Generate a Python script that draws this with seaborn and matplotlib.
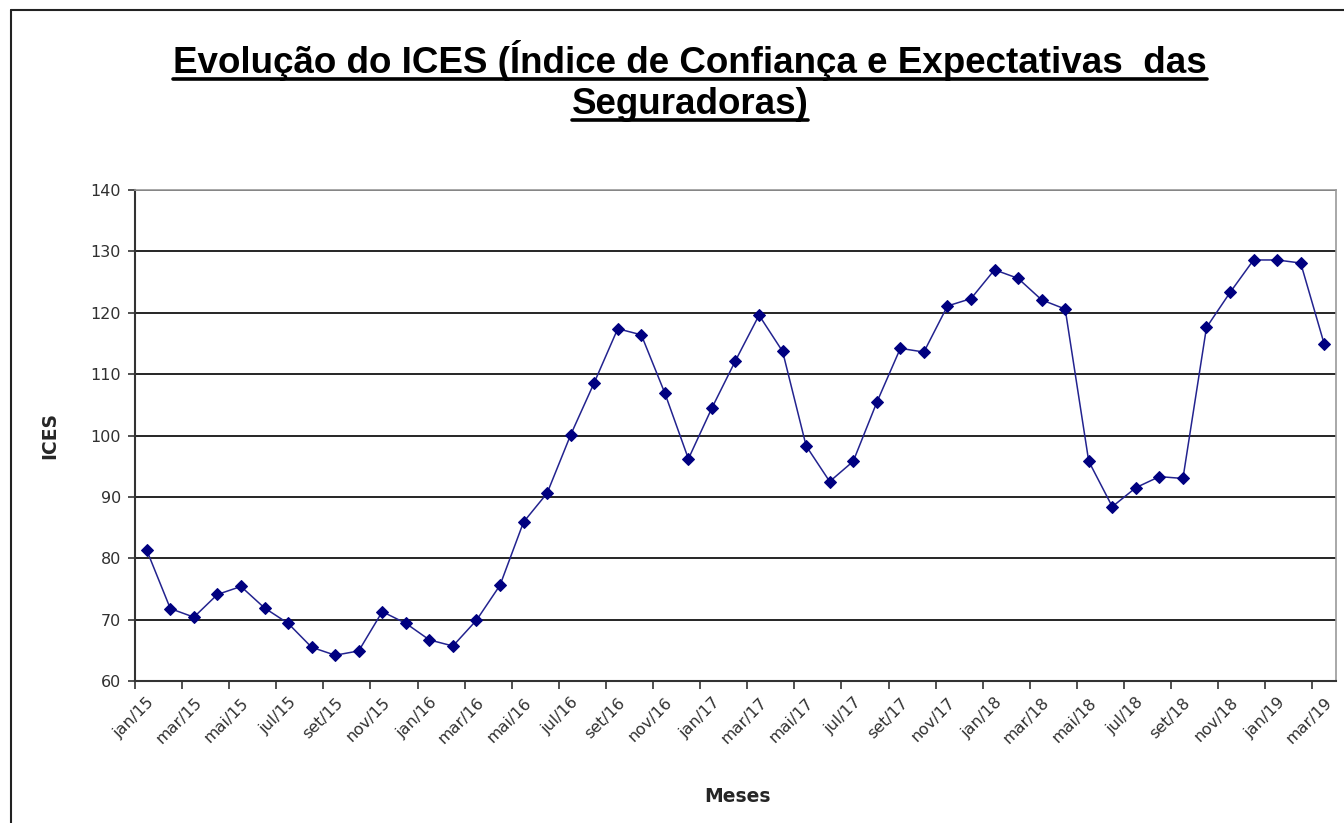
import numpy as np
import pandas as pd
import matplotlib
matplotlib.use("Agg")
import matplotlib.pyplot as plt
import seaborn as sns
from matplotlib.lines import Line2D

meses = ["jan/15", "fev/15", "mar/15", "abr/15", "mai/15", "jun/15", "jul/15", "ago/15", "set/15", "out/15", "nov/15", "dez/15",
         "jan/16", "fev/16", "mar/16", "abr/16", "mai/16", "jun/16", "jul/16", "ago/16", "set/16", "out/16", "nov/16", "dez/16",
         "jan/17", "fev/17", "mar/17", "abr/17", "mai/17", "jun/17", "jul/17", "ago/17", "set/17", "out/17", "nov/17", "dez/17",
         "jan/18", "fev/18", "mar/18", "abr/18", "mai/18", "jun/18", "jul/18", "ago/18", "set/18", "out/18", "nov/18", "dez/18",
         "jan/19", "fev/19", "mar/19"]
ices = [81.3, 71.8, 70.4, 74.1, 75.4, 71.9, 69.4, 65.5, 64.2, 64.9,
        71.3, 69.4, 66.7, 65.7, 69.9, 75.6, 85.9, 90.6, 100.1, 108.6,
        117.4, 116.4, 106.9, 96.2, 104.5, 112.2, 119.6, 113.7, 98.3, 92.5,
        95.8, 105.4, 114.2, 113.6, 121.1, 122.3, 127.0, 125.6, 122.1, 120.6,
        95.8, 88.4, 91.5, 93.3, 93.0, 117.6, 123.3, 128.6, 128.6, 128.1,
        114.9]
y_ticks = [60, 70, 80, 90, 100, 110, 120, 130, 140]

titulo1 = "Evolução do ICES (Índice de Confiança e Expectativas  das"
titulo2 = "Seguradoras)"

df = pd.DataFrame({"pos": np.arange(len(meses)), "mes": meses, "ICES": ices})

sns.set_style("white")
plt.rcParams["font.family"] = ["DejaVu Sans"]

W, H = 1344, 823
fig = plt.figure(figsize=(W / 100, H / 100), dpi=100)
fig.patch.set_facecolor("white")

ax = fig.add_axes([135 / W, 1 - 681 / H, (1336 - 135) / W, (681 - 190) / H])
sns.lineplot(data=df, x="pos", y="ICES", ax=ax, color="#23238f", linewidth=1.1,
             marker="D", markersize=6.5, markerfacecolor="#000080",
             markeredgecolor="#000080")

ax.set_xlim(-0.5, len(meses) - 0.5)
ax.set_ylim(60, 140)
ax.set_yticks(y_ticks)
ax.set_yticklabels([str(v) for v in y_ticks])
ax.set_xticks(np.arange(-0.5, len(meses) - 1, 2))
ax.set_xticklabels([])
ax.set_xticks(np.arange(0, len(meses), 2), minor=True)
ax.set_xticklabels(meses[::2], minor=True, rotation=45, ha="right",
                   rotation_mode="anchor")
ax.tick_params(axis="x", which="major", direction="out", length=6, width=1.2,
               color="#333333", bottom=True)
ax.tick_params(axis="x", which="minor", length=0, pad=10, labelsize=11.5,
               labelcolor="#303030")
ax.tick_params(axis="y", direction="out", length=5, width=1.2, color="#333333",
               labelsize=11.5, labelcolor="#303030", pad=5, left=True)

ax.yaxis.grid(True, color="black", linewidth=1.2)
ax.xaxis.grid(False)
ax.set_axisbelow(True)
for s in ["left", "bottom"]:
    ax.spines[s].set_color("#333333")
    ax.spines[s].set_linewidth(1.5)
for s in ["top", "right"]:
    ax.spines[s].set_color("#999999")
    ax.spines[s].set_linewidth(1.2)

ax.set_xlabel("Meses", fontsize=13.5, fontweight="bold", labelpad=0)
ax.xaxis.set_label_coords(0.502, -(787 - 681) / (681 - 190), transform=ax.transAxes)
ax.set_ylabel("ICES", fontsize=13.5, fontweight="bold")
ax.yaxis.set_label_coords(-(135 - 59) / (1336 - 135), 0.5)

# title (underlined, two lines)
tfont = dict(fontsize=26.5, fontweight="bold", family=["Liberation Sans", "DejaVu Sans"],
             ha="center", va="baseline", color="black")
t1 = fig.text(690 / W, 1 - 73 / H, titulo1, **tfont)
t2 = fig.text(690 / W, 1 - 114 / H, titulo2, **tfont)
fig.canvas.draw()
r = fig.canvas.get_renderer()
for t, base in ((t1, 73), (t2, 114)):
    bb = t.get_window_extent(renderer=r)
    yline = 1 - (base + 5.5) / H
    fig.add_artist(Line2D([bb.x0 / W, bb.x1 / W], [yline, yline], color="black",
                          linewidth=2.6, transform=fig.transFigure))

# outer chart frame
fig.add_artist(Line2D([11 / W, 11 / W], [0, 1 - 10 / H], color="#222222", linewidth=1.5,
                      transform=fig.transFigure))
fig.add_artist(Line2D([11 / W, 1], [1 - 10 / H, 1 - 10 / H], color="#222222", linewidth=1.5,
                      transform=fig.transFigure))

fig.savefig("out.png", dpi=100, facecolor="white")
